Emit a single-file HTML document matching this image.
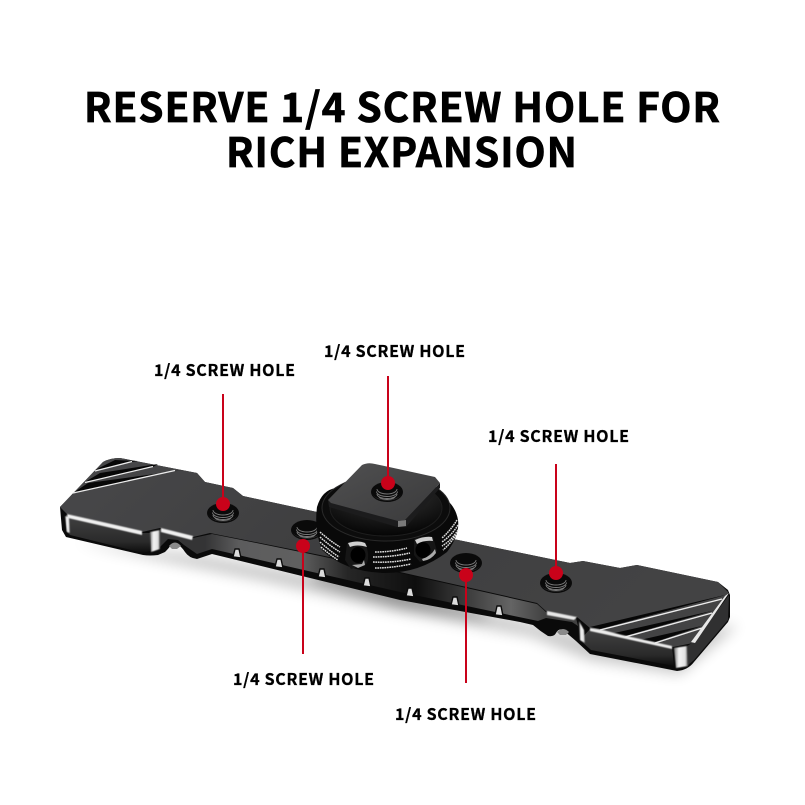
<!DOCTYPE html>
<html><head><meta charset="utf-8"><style>
html,body{margin:0;padding:0;background:#fff}
svg{display:block}
text{font-family:"Noto Sans CJK SC","Liberation Sans",sans-serif;font-weight:700;fill:#000}
</style></head><body>
<svg width="805" height="805" viewBox="0 0 805 805" xmlns="http://www.w3.org/2000/svg">
<defs>
<filter id="b8" x="-20%" y="-60%" width="140%" height="220%"><feGaussianBlur stdDeviation="7"/></filter>
<filter id="b1" x="-10%" y="-30%" width="120%" height="160%"><feGaussianBlur stdDeviation="0.45"/></filter>
<linearGradient id="front" gradientUnits="userSpaceOnUse" x1="205" y1="0" x2="545" y2="0">
<stop offset="0" stop-color="#343435"/><stop offset=".1" stop-color="#5c5c5d"/><stop offset=".28" stop-color="#606060"/><stop offset=".42" stop-color="#262626"/><stop offset=".62" stop-color="#0e0e0e"/><stop offset=".74" stop-color="#333"/><stop offset=".9" stop-color="#646464"/><stop offset="1" stop-color="#414141"/>
</linearGradient>
<linearGradient id="top" x1="0" y1="0" x2="1" y2="0.3">
<stop offset="0" stop-color="#48484a"/><stop offset=".5" stop-color="#3e3e3f"/><stop offset="1" stop-color="#434344"/>
</linearGradient>
<linearGradient id="plate" x1="0" y1="0" x2="1" y2="1">
<stop offset="0" stop-color="#505051"/><stop offset="1" stop-color="#3a3a3b"/>
</linearGradient>
<linearGradient id="end" x1="0" y1="0" x2="0" y2="1">
<stop offset="0" stop-color="#414142"/><stop offset=".7" stop-color="#2a2a2a"/><stop offset="1" stop-color="#0c0c0c"/>
</linearGradient>
<linearGradient id="blk" x1="0" y1="0" x2="1" y2="0">
<stop offset="0" stop-color="#777"/><stop offset=".35" stop-color="#f4f4f4"/><stop offset=".8" stop-color="#e0e0e0"/><stop offset="1" stop-color="#555"/>
</linearGradient>
<radialGradient id="knob" cx=".5" cy=".2" r=".8">
<stop offset="0" stop-color="#3a3a3a"/><stop offset="1" stop-color="#050505"/>
</radialGradient>
<g id="hole">
<ellipse rx="16" ry="10" fill="#0a0a0a"/>
<path d="M-15 2A16 10 0 0 0 15 2A16 9.300 0 0 1 -15 2Z" fill="#4a4a4a"/>
<g fill="none" stroke="#7a7a7a" stroke-width=".9">
<path d="M-10 -3A10 5 0 0 0 10 -3"/>
<path d="M-10.500 -.5A10.500 5 0 0 0 10.500 -.5"/>
<path d="M-10 2A10 4.500 0 0 0 10 2"/>
<path d="M-8 4.500A8 3 0 0 0 8 4.500"/>
</g>
</g>
</defs>

<g stroke="#000" stroke-width=".7">
<text x="84" y="122" font-size="40.500" textLength="636">RESERVE 1/4 SCREW HOLE FOR</text>
<text x="226" y="167" font-size="40.500" textLength="351">RICH EXPANSION</text>
</g>

<g font-size="16" stroke="#000" stroke-width=".3">
<text x="154" y="376" textLength="141">1/4 SCREW HOLE</text>
<text x="324" y="357" textLength="141">1/4 SCREW HOLE</text>
<text x="488" y="442" textLength="141">1/4 SCREW HOLE</text>
<text x="233" y="685" textLength="141">1/4 SCREW HOLE</text>
<text x="395" y="720" textLength="141">1/4 SCREW HOLE</text>
</g>

<!-- shadows -->
<path d="M75 542L150 558L260 580L400 612L530 636L590 660L680 674L738 625L600 640L400 590L200 555Z" fill="#000" opacity=".22" filter="url(#b8)"/>
<path d="M310 580L400 606L490 620L480 612L400 590L320 570Z" fill="#000" opacity=".3" filter="url(#b8)"/>

<!-- bar silhouette -->
<path d="M60 507L62 530L66 537L143 555Q150 556 158 555L165 552Q169 548 171 545Q173 542 177 544Q182 547 185 552Q189 558 197 559L212 554L400 600L520 622L533 625Q540 631 548 636Q554 637 556 633Q559 628 563 630Q569 635 576 641L590 654L677 671Q688 670 694 662L728 622L730 617L730 595L728 590L718 582L637 565L620 568L583 561L570 563L458 540L317 512L243 496L233 488L205 482L197 473L120 458Q110 458 103 462Z" fill="#0a0a0a"/>

<!-- end faces -->
<path d="M66 515L142 533L150 533L150 551L143 553L70 535L66 531Z" fill="url(#end)"/>
<path d="M590 629L672 647L674 666L591 650L580 640Z" fill="url(#end)"/>
<path d="M687 646L694 642L729 595L728 620L694 660L688 665Z" fill="#303031"/>
<path d="M160 529L193 538L212 534L320 556L400 573L537 604L546 612L576 618L578 626L572 622L546 618L538 621L400 592L212 549L197 554L184 545L178 540L168 539L160 547Z" fill="url(#front)"/>

<!-- top face -->
<path d="M60 507L103 462Q110 458 120 458L197 473L205 482L233 488L243 496L317 512L458 540L570 563L583 561L620 568L637 565L718 582L728 592L728 594L693 643L673 647L590 628L577 617L547 612L537 603L400 572L320 555L210 533L193 537L160 528L142 532L67 514Z" fill="url(#top)"/>

<!-- left stripes: black wedge above a white line -->
<g fill="#070707">
<path d="M95 470L115 460L138 461L132 462Z"/>
<path d="M85 482L100 473L158 464L153 467Z"/>
<path d="M73 493L88 483L184 470L175 471Z"/>
</g>
<g stroke="#ececec" stroke-width="1.300" fill="none">
<path d="M95 471L132 461.500"/>
<path d="M85 482.500L153 466.500"/>
<path d="M73 493L175 470.500"/>
</g>

<!-- right stripes -->
<g fill="#070707">
<path d="M600 629L722 596L725 595L590 627Z"/>
<path d="M625 636L712 611L716 610L610 634Z"/>
<path d="M655 642L702 626L706 625L640 640Z"/>
</g>
<g stroke="#ececec" stroke-width="1.400" fill="none">
<path d="M600 630L722 599"/>
<path d="M625 637L712 613"/>
<path d="M655 643L702 628"/>
</g>
<path d="M729 593L725 596L691 642L695 643Z" fill="#e8e8e8"/>
<g fill="#ececec" filter="url(#b1)">
<path d="M590 628L603 630L622 635L672 646L672 649L622 638L590 631Z"/>
</g>

<!-- bright edge highlights -->
<g filter="url(#b1)">
<path d="M67 514L142 531L142 535L68 518Z" fill="#f0f0f0"/>
<path d="M161 528L193 536L192 540L161 532Z" fill="#f0f0f0"/>
<path d="M150 532L160 530L160 549L151 552Z" fill="url(#blk)"/>
<path d="M65 516L69 517L70 533L67 532Z" fill="url(#blk)"/>
<path d="M547 611L577 617L574 620L547 615Z" fill="#e8e8e8"/>
<path d="M579 621L584 630L585 643L580 640Z" fill="url(#blk)"/>
<path d="M674 648L687 646L688 666L676 668Z" fill="url(#blk)"/>
</g>

<!-- teeth -->
<g fill="#dcdcdc" stroke="#0c0c0c" stroke-width="1.400" stroke-linejoin="round">
<path d="M235 549L239 549L241 558L233 557Z"/>
<path d="M277 559L281 559L283 568L275 567Z"/>
<path d="M320 569L324 569L326 578L318 577Z"/>
<path d="M365 578L369 578L371 587L363 586Z"/>
<path d="M408 588L412 588L414 597L406 596Z"/>
<path d="M453 597L457 597L459 606L451 605Z"/>
<path d="M497 606L501 606L503 616L495 615Z"/>
</g>
<path d="M169 546Q175 539 181 546L177 549L172 549Z" fill="#8a8a8a"/>
<path d="M557 632Q563 626 569 632L566 635L560 635Z" fill="#8a8a8a"/>

<!-- bar holes -->
<use href="#hole" x="223" y="513"/>
<use href="#hole" x="307" y="530"/>
<use href="#hole" x="466" y="563"/>
<use href="#hole" x="556" y="583"/>

<!-- knob -->
<path d="M317 507Q322 490 336 488Q360 480 385 484Q430 488 447 500Q456 508 458 520Q460 535 447 552Q420 573 385 573Q345 572 322 550Q314 530 317 507Z" fill="#090909"/>
<ellipse cx="386" cy="508" rx="64" ry="33" fill="#0c0c0c" stroke="#2a2a2a" stroke-width="1"/>
<ellipse cx="386" cy="508" rx="56" ry="28" fill="url(#knob)" stroke="#1e1e1e" stroke-width="1"/>

<!-- knurls -->
<g stroke="#dedede" stroke-width="1.500" fill="none" stroke-dasharray="1.700 .7">
<path d="M320 532Q330 541 340 547M320 537Q330 546 340 552M320 542Q330 551 339 557M321 547Q330 555 338 560"/>
<path d="M457 520Q451 530 442 538M458 525Q452 535 442 542M458 530Q452 540 442 546M456 535Q451 543 443 550"/>
<path d="M375 552Q392 552 407 548M373 557Q392 557 410 553M373 562Q392 563 411 559M375 568Q392 568 411 564"/>
</g>

<!-- side sockets -->
<g>
<path d="M347 543Q358 539 366 543L368 553Q369 566 362 566L351 569L345 560Z" fill="#161616"/>
<path d="M414 539Q424 535 433 537L437 551Q432 560 420 562L414 555Z" fill="#161616"/>
<path d="M348 543Q358 540 365 543L367 547Q357 544 350 547Z" fill="#cfcfcf"/>
<path d="M415 540Q424 536 432 537L433 541Q424 540 417 544Z" fill="#cfcfcf"/>
<path d="M352 565L362 564L364 560L365 565L358 568Z" fill="#aaa"/>
<path d="M422 559Q431 556 435 549L436 553Q431 560 423 561Z" fill="#aaa"/>
<ellipse cx="358" cy="555" rx="7.500" ry="8" fill="#000"/>
<ellipse cx="423" cy="550" rx="7.500" ry="8" fill="#000"/>
</g>

<!-- square plate -->
<path d="M328 500L329 507L397 527L406 527L440 488L440 483L405 520L330 502Z" fill="#1c1c1d"/>
<path d="M362 465Q368 462 375 464L435 477L440 483L405 520L398 521L331 503L328 500Z" fill="url(#plate)"/>
<path d="M398 521L406 520L406 526L398 527Z" fill="#7a7a7a"/>
<use href="#hole" x="387" y="492"/>

<!-- callouts -->
<g stroke="#c9021a" stroke-width="2" fill="none">
<path d="M223 394V504"/>
<path d="M303 545V654"/>
<path d="M388 376V483"/>
<path d="M466 575V683"/>
<path d="M556 464V573"/>
</g>
<g fill="#c9021a">
<circle cx="223" cy="504" r="7"/>
<circle cx="303" cy="546" r="7"/>
<circle cx="388" cy="483" r="7"/>
<circle cx="466" cy="575" r="7"/>
<circle cx="556" cy="573" r="7"/>
</g>
</svg>
</body></html>
